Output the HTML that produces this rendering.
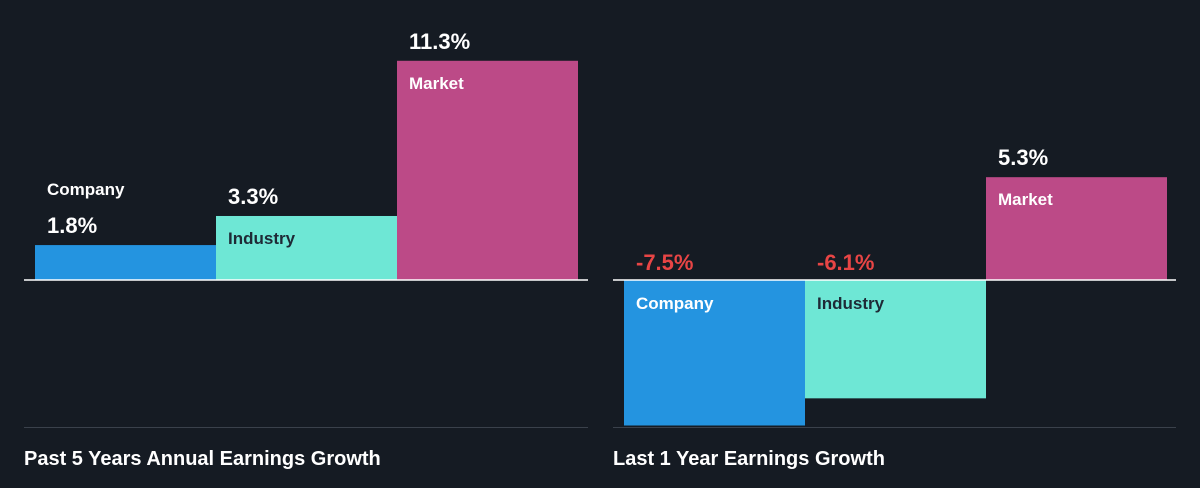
<!DOCTYPE html>
<html><head><meta charset="utf-8"><style>
html,body{margin:0;padding:0;background:#151b23;}
svg{display:block;font-family:"Liberation Sans",Arial,sans-serif;}
</style></head><body>
<svg id="chart" width="1200" height="488" viewBox="0 0 1200 488" xmlns="http://www.w3.org/2000/svg">
<rect x="0" y="0" width="1200" height="488" fill="#151b23"/>
</svg>
<script>
const categories = ["Company", "Industry", "Market"];
const past5Values = [1.8, 3.3, 11.3];
const last1Values = [-7.5, -6.1, 5.3];
const valueLabels5 = ["1.8%", "3.3%", "11.3%"];
const valueLabels1 = ["-7.5%", "-6.1%", "5.3%"];
const panelTitles = ["Past 5 Years Annual Earnings Growth", "Last 1 Year Earnings Growth"];

const NS = "http://www.w3.org/2000/svg";
const svg = document.getElementById("chart");
const colors = ["#2494e0", "#6ee7d5", "#bc4a87"];
const nameColors = ["#ffffff", "#1e2a36", "#ffffff"];
const baseY = 280, pxPer = 19.4;
function y(v){ return baseY - v * pxPer; }
function mk(tag, attrs){ const e = document.createElementNS(NS, tag); for (const k in attrs) e.setAttribute(k, attrs[k]); svg.appendChild(e); return e; }
function txt(x, yy, s, size, fill){ const t = mk("text", {x:x, y:yy, "font-size":size, "font-weight":"bold", fill:fill}); t.textContent = s; return t; }

const panels = [
  {x0:24, x1:588, barX:35, values:past5Values, labels:valueLabels5},
  {x0:613, x1:1176, barX:624, values:last1Values, labels:valueLabels1}
];
panels.forEach((p, pi) => {
  const bw = 181;
  p.values.forEach((v, i) => {
    const bx = p.barX + i * bw;
    const top = Math.min(y(v), baseY), h = Math.abs(y(v) - baseY);
    const r = mk("rect", {x:bx, y:top, width:bw, height:h, fill:colors[i]});
    
    
    const valColor = v < 0 ? "#e84545" : "#ffffff";
    let vt, nt;
    if (v < 0) {
      vt = txt(bx + 12, baseY - 10, p.labels[i], 22, valColor);
      nt = txt(bx + 12, baseY + 29, categories[i], 17, nameColors[i]);
    } else if (h < 50) {
      vt = txt(bx + 12, y(v) - 12, p.labels[i], 22, valColor);
      nt = txt(bx + 12, y(v) - 50, categories[i], 17, "#ffffff");
    } else {
      vt = txt(bx + 12, y(v) - 12, p.labels[i], 22, valColor);
      nt = txt(bx + 12, y(v) + 28, categories[i], 17, nameColors[i]);
    }
    
    
    
    
  });
  const bl = mk("line", {x1:p.x0, x2:p.x1, y1:baseY, y2:baseY, stroke:"#ffffff", "stroke-width":1.5});
  
  
  const fl = mk("line", {x1:p.x0, x2:p.x1, y1:427.5, y2:427.5, stroke:"#3a414b", "stroke-width":1});
  
  
  const tt = txt(p.x0, 465, panelTitles[pi], 20, "#ffffff");
  
  
});
</script>
</body></html>
